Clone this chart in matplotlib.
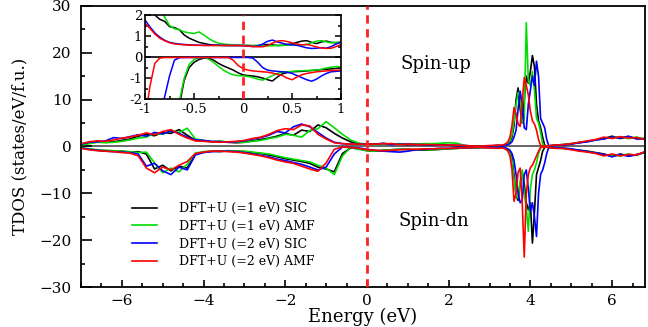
import numpy as np
import matplotlib
matplotlib.use("Agg")
import matplotlib.pyplot as plt
from matplotlib.ticker import MultipleLocator

plt.rcParams['font.family'] = ['DejaVu Serif']

# energy grid for the main panel (coarse in the valence band, fine around the 4 eV peak)
energy = np.round(np.concatenate([np.arange(-7.0, 3.21, 0.2),
                                  np.arange(3.3, 4.61, 0.05),
                                  np.arange(4.8, 6.81, 0.2)]), 3)

labels = ["DFT+U (=1 eV) SIC", "DFT+U (=1 eV) AMF",
          "DFT+U (=2 eV) SIC", "DFT+U (=2 eV) AMF"]
colors = ["black", "#00dd00", "#0000ff", "#ff0000"]

# spin-up TDOS
up_sic1 = [0.4, 0.8, 1.1, 0.9, 1.0, 1.3, 1.6, 2.2, 2.6, 2.3, 3.0, 2.8, 3.6, 2.4, 1.3, 1.2, 1.0, 1.1, 0.9, 0.8,
           0.9, 1.2, 1.5, 1.8, 2.2, 2.8, 2.4, 3.5, 3.2, 4.6, 4.0, 2.8, 1.8, 1.0, 0.6, 0.5, 0.5, 0.5, 0.6, 0.5,
           0.4, 0.5, 0.4, 0.4, 0.5, 0.3, 0.2, 0.1, 0.1, 0.1, 0.1, 0.2,
           0.2, 0.3, 0.4, 0.6, 1.0, 2.0, 4.5, 10.0, 12.5, 8.0, 5.0, 10.0, 15.0, 13.5, 16.0, 19.4, 17.0, 9.0,
           5.5, 4.0, 2.0, 0.3, 0.1, 0.1, 0.2, 0.2, 0.3,
           0.4, 0.6, 0.8, 1.1, 1.4, 1.7, 2.2, 1.7, 2.1, 1.7, 1.6]
up_amf1 = [0.3, 0.6, 0.9, 0.8, 0.9, 1.1, 1.4, 1.8, 2.0, 2.8, 2.6, 3.4, 3.0, 3.9, 1.6, 1.3, 1.0, 1.1, 1.0, 0.9,
           0.9, 1.1, 1.3, 1.7, 2.0, 2.6, 2.4, 2.0, 3.4, 3.8, 5.3, 4.0, 2.6, 1.4, 0.7, 0.5, 0.4, 0.5, 0.5, 0.6,
           0.5, 0.5, 0.6, 0.6, 0.7, 0.8, 0.7, 0.2, 0.1, 0.1, 0.1, 0.2,
           0.2, 0.3, 0.4, 0.7, 1.2, 2.5, 5.5, 9.0, 11.5, 10.5, 5.0, 6.0, 26.4, 14.0, 13.0, 16.0, 12.0, 6.0,
           5.0, 3.0, 0.5, 0.1, 0.1, 0.1, 0.2, 0.3, 0.3,
           0.4, 0.6, 0.9, 1.1, 1.4, 1.8, 1.9, 2.1, 1.7, 2.0, 1.6]
up_sic2 = [0.5, 0.9, 1.0, 1.2, 1.9, 1.7, 2.1, 2.5, 2.2, 3.0, 2.7, 3.3, 2.8, 2.0, 1.4, 1.3, 1.1, 1.0, 0.9, 1.0,
           1.2, 1.6, 1.9, 2.4, 3.2, 2.9, 4.2, 4.8, 4.2, 3.0, 1.8, 0.9, 0.6, 0.5, 0.5, 0.5, 0.5, 0.7, 0.4, 0.5,
           0.5, 0.4, 0.4, 0.3, 0.3, 0.3, 0.2, 0.2, 0.1, 0.1, 0.1, 0.2,
           0.1, 0.2, 0.3, 0.4, 0.6, 1.0, 2.0, 3.5, 8.0, 11.8, 9.0, 4.0, 3.6, 9.0, 12.0, 15.0, 13.0, 18.2, 15.0,
           6.0, 5.0, 4.0, 1.5, 0.2, 0.1, 0.2, 0.2,
           0.3, 0.5, 0.8, 1.0, 1.4, 1.6, 2.0, 1.8, 2.2, 1.6, 1.7]
up_amf2 = [0.6, 1.0, 1.2, 1.1, 1.4, 1.8, 2.0, 2.4, 2.9, 2.5, 3.2, 3.6, 2.6, 1.8, 1.2, 1.1, 1.0, 0.9, 1.0, 1.1,
           1.3, 1.7, 2.0, 2.6, 3.4, 3.8, 3.6, 4.6, 4.4, 2.6, 1.6, 0.8, 0.6, 0.5, 0.5, 0.5, 0.5, 0.6, 0.6, 0.4,
           0.5, 0.4, 0.4, 0.4, 0.3, 0.3, 0.3, 0.2, 0.1, 0.1, 0.2, 0.3,
           0.3, 0.4, 0.6, 1.0, 2.0, 4.5, 8.3, 7.0, 4.8, 4.3, 9.5, 14.7, 13.0, 11.0, 7.5, 5.5, 4.8, 3.5, 1.5,
           0.2, 0.1, 0.1, 0.1, 0.2, 0.2, 0.3, 0.3,
           0.4, 0.6, 0.9, 1.2, 1.5, 2.0, 1.7, 2.1, 1.8, 1.9, 1.5]

# spin-down TDOS
dn_sic1 = [-0.3, -0.6, -0.8, -0.9, -1.0, -1.0, -1.2, -1.1, -1.6, -4.8, -4.0, -5.2, -4.2, -4.6, -1.6, -1.2,
           -1.0, -1.1, -0.9, -1.0, -1.1, -1.3, -1.5, -1.8, -2.2, -2.6, -2.9, -3.2, -3.6, -4.4, -4.8, -5.4,
           -1.5, -0.3, -0.5, -0.9, -1.0, -0.8, -0.7, -0.6, -0.6, -0.7, -0.8, -0.7, -0.6, -0.5, -0.4, -0.3,
           -0.3, -0.2, -0.2, -0.3,
           -0.2, -0.3, -0.4, -0.7, -1.2, -2.5, -6.0, -10.5, -11.5, -8.0, -5.5, -8.0, -12.0, -13.5, -12.0,
           -20.6, -14.0, -6.0, -4.5, -3.0, -1.0, -0.2, -0.1, -0.2, -0.2, -0.3, -0.3,
           -0.4, -0.6, -0.8, -1.0, -1.3, -1.6, -2.1, -1.6, -2.0, -1.7, -1.3]
dn_amf1 = [-0.2, -0.5, -0.7, -0.8, -0.9, -1.0, -1.1, -1.3, -1.2, -3.5, -5.6, -4.6, -5.4, -3.8, -1.4, -1.1,
           -1.0, -1.0, -0.9, -1.0, -1.0, -1.2, -1.4, -1.6, -2.0, -2.4, -2.7, -3.0, -3.3, -4.0, -4.6, -6.0,
           -2.0, -0.2, -0.6, -0.9, -1.0, -0.8, -0.7, -0.6, -0.7, -0.6, -0.7, -0.7, -0.6, -0.5, -0.4, -0.3,
           -0.3, -0.2, -0.2, -0.3,
           -0.2, -0.3, -0.5, -0.8, -1.4, -3.0, -7.0, -10.5, -11.0, -7.5, -5.0, -10.0, -13.0, -18.1, -9.0,
           -6.0, -5.0, -3.5, -1.5, -0.3, -0.1, -0.1, -0.1, -0.2, -0.2, -0.3, -0.3,
           -0.4, -0.6, -0.9, -1.1, -1.4, -1.8, -1.9, -2.0, -1.6, -1.9, -1.2]
dn_sic2 = [-0.3, -0.6, -0.8, -1.0, -1.1, -1.2, -1.3, -1.6, -4.2, -3.6, -5.2, -6.0, -4.4, -5.0, -1.8, -1.3,
           -1.1, -1.0, -1.0, -1.1, -1.3, -1.6, -1.9, -2.2, -2.7, -3.0, -3.4, -3.8, -4.4, -5.0, -4.4, -1.6,
           -0.1, -0.2, -0.3, -0.6, -0.8, -1.0, -1.1, -1.2, -1.0, -0.7, -0.6, -0.5, -0.4, -0.4, -0.3, -0.3,
           -0.2, -0.2, -0.2, -0.3,
           -0.1, -0.2, -0.3, -0.5, -0.8, -1.5, -3.0, -6.0, -10.0, -12.0, -11.5, -6.0, -5.0, -9.0, -13.8,
           -12.0, -15.0, -19.2, -10.0, -6.0, -5.0, -3.5, -1.5, -0.2, -0.2, -0.3, -0.3,
           -0.3, -0.5, -0.8, -1.1, -1.4, -1.7, -2.2, -1.7, -2.1, -1.8, -1.2]
dn_amf2 = [-0.4, -0.7, -0.9, -1.0, -1.1, -1.3, -1.4, -2.0, -4.6, -5.6, -4.4, -5.0, -4.0, -3.2, -1.5, -1.2,
           -1.0, -1.0, -1.1, -1.2, -1.4, -1.7, -2.0, -2.4, -2.9, -3.3, -3.6, -4.2, -4.8, -5.3, -3.5, -0.6,
           -0.1, -0.2, -0.4, -0.7, -0.8, -0.9, -0.8, -0.7, -0.6, -0.6, -0.5, -0.5, -0.4, -0.4, -0.3, -0.3,
           -0.2, -0.2, -0.3, -0.4,
           -0.3, -0.4, -0.6, -1.0, -2.0, -5.0, -11.7, -10.0, -5.5, -4.6, -12.0, -23.6, -10.0, -6.0, -4.5,
           -4.0, -3.0, -2.0, -1.0, -0.2, -0.1, -0.1, -0.2, -0.2, -0.3, -0.3, -0.4,
           -0.4, -0.7, -1.0, -1.2, -1.5, -2.0, -1.6, -2.0, -1.7, -1.8, -1.1]

# inset: zoom around the Fermi level
energy_in = np.round(np.arange(-1.0, 1.001, 0.05), 3)

in_up_sic1 = [2.6, 2.3, 2.0, 1.8, 1.7, 1.45, 1.4, 1.3, 1.05, 0.9, 0.8, 0.7, 0.65, 0.6, 0.57, 0.56, 0.55,
              0.55, 0.55, 0.55, 0.55, 0.55, 0.54, 0.55, 0.57, 0.6, 0.58, 0.55, 0.56, 0.6, 0.62, 0.7, 0.76,
              0.78, 0.7, 0.64, 0.72, 0.76, 0.7, 0.68, 0.7]
in_up_amf1 = [3.0, 2.8, 2.6, 2.3, 1.9, 1.5, 1.35, 1.3, 1.2, 1.15, 1.12, 1.2, 1.05, 0.88, 0.75, 0.66, 0.62,
              0.6, 0.58, 0.57, 0.56, 0.55, 0.55, 0.55, 0.54, 0.53, 0.54, 0.55, 0.55, 0.56, 0.58, 0.6, 0.58,
              0.6, 0.68, 0.76, 0.78, 0.72, 0.68, 0.7, 0.72]
in_up_sic2 = [1.76, 1.44, 1.15, 0.95, 0.8, 0.7, 0.65, 0.62, 0.6, 0.58, 0.57, 0.56, 0.56, 0.56, 0.56, 0.56,
              0.56, 0.55, 0.55, 0.55, 0.55, 0.53, 0.5, 0.52, 0.62, 0.75, 0.81, 0.72, 0.66, 0.6, 0.58, 0.56,
              0.5, 0.44, 0.41, 0.42, 0.45, 0.42, 0.5, 0.62, 0.72]
in_up_amf2 = [1.6, 1.37, 1.1, 0.9, 0.78, 0.68, 0.63, 0.6, 0.58, 0.57, 0.56, 0.56, 0.55, 0.55, 0.55, 0.55,
              0.55, 0.55, 0.55, 0.55, 0.54, 0.52, 0.5, 0.49, 0.49, 0.55, 0.66, 0.76, 0.78, 0.74, 0.68, 0.62,
              0.58, 0.6, 0.55, 0.48, 0.43, 0.41, 0.42, 0.5, 0.6]
in_dn_sic1 = [-4.0, -4.0, -4.0, -4.0, -4.0, -4.0, -4.0, -2.3, -1.1, -0.5, -0.25, -0.12, -0.05, -0.05, -0.15,
              -0.3, -0.42, -0.52, -0.62, -0.75, -0.85, -0.88, -0.9, -0.94, -1.0, -1.08, -1.14, -0.95, -0.8,
              -0.74, -0.7, -0.69, -0.68, -0.66, -0.64, -0.62, -0.6, -0.58, -0.56, -0.54, -0.5]
in_dn_amf1 = [-4.0, -4.0, -4.0, -4.0, -4.0, -4.0, -4.0, -2.1, -1.0, -0.35, -0.12, -0.03, -0.02, -0.1, -0.25,
              -0.45, -0.62, -0.75, -0.85, -0.88, -0.9, -0.92, -0.98, -1.05, -1.1, -1.0, -0.88, -0.78, -0.72,
              -0.7, -0.68, -0.66, -0.65, -0.64, -0.63, -0.62, -0.58, -0.52, -0.48, -0.45, -0.46]
in_dn_sic2 = [-4.0, -3.5, -3.0, -2.6, -1.9, -0.9, -0.15, -0.03, -0.02, -0.02, -0.02, -0.02, -0.02, -0.02,
              -0.02, -0.02, -0.02, -0.02, -0.02, -0.02, -0.02, -0.02, -0.05, -0.25, -0.5, -0.62, -0.66, -0.68,
              -0.7, -0.72, -0.78, -0.88, -0.98, -1.08, -1.15, -1.05, -0.9, -0.78, -0.7, -0.68, -0.66]
in_dn_amf2 = [-3.0, -1.4, -0.3, -0.05, -0.02, -0.02, -0.02, -0.02, -0.02, -0.02, -0.02, -0.02, -0.02, -0.02,
              -0.02, -0.02, -0.02, -0.02, -0.15, -0.4, -0.55, -0.62, -0.66, -0.68, -0.7, -0.72, -0.76, -0.82,
              -0.88, -1.0, -1.08, -0.95, -0.84, -0.78, -0.74, -0.7, -0.68, -0.66, -0.64, -0.63, -0.62]

ups = [up_sic1, up_amf1, up_sic2, up_amf2]
dns = [dn_sic1, dn_amf1, dn_sic2, dn_amf2]
in_ups = [in_up_sic1, in_up_amf1, in_up_sic2, in_up_amf2]
in_dns = [in_dn_sic1, in_dn_amf1, in_dn_sic2, in_dn_amf2]

fig = plt.figure(figsize=(6.48, 3.27), dpi=100)
ax = fig.add_axes([0.125, 0.122, 0.870, 0.860])

ax.axhline(0, color="0.35", lw=1.3, zorder=1)
for up, dn, c, lab in zip(ups, dns, colors, labels):
    ax.plot(energy, up, color=c, lw=1.2, label=lab, zorder=2)
    ax.plot(energy, dn, color=c, lw=1.2, zorder=2)
ax.axvline(0, color="#ff2020", lw=2, ls=(0, (3, 2)), zorder=3)

ax.set_xlim(-7, 6.8)
ax.set_ylim(-30, 30)
ax.xaxis.set_major_locator(MultipleLocator(2))
ax.xaxis.set_minor_locator(MultipleLocator(0.5))
ax.yaxis.set_major_locator(MultipleLocator(10))
ax.yaxis.set_minor_locator(MultipleLocator(5))
ax.tick_params(which="both", direction="in", top=False, right=False, labelsize=11, width=1.2)
ax.tick_params(axis="x", which="major", length=5, pad=5)
ax.tick_params(axis="y", which="major", length=8, pad=7)
ax.tick_params(which="minor", length=3)
for s in ax.spines.values():
    s.set_linewidth(1.3)
ax.set_xlabel("Energy (eV)", fontsize=13, labelpad=0)
ax.set_ylabel("TDOS (states/eV/f.u.)", fontsize=12, labelpad=8)

ax.text(0.83, 17.5, "Spin-up", fontsize=13, va="center")
ax.text(0.76, -16, "Spin-dn", fontsize=13, va="center")

ax.legend(loc="upper left", bbox_to_anchor=(0.079, 0.325), frameon=False, fontsize=9,
          handlelength=2.0, handletextpad=1.8, labelspacing=0.38, borderpad=0)

# inset
ins = fig.add_axes([0.2238, 0.697, 0.3025, 0.257])
ins.axhline(0, color="black", lw=1.2, zorder=1)
for up, dn, c in zip(in_ups, in_dns, colors):
    ins.plot(energy_in, up, color=c, lw=1.1, zorder=2)
    ins.plot(energy_in, dn, color=c, lw=1.1, zorder=2)
ins.axvline(0, color="#ff2020", lw=2, ls=(0, (3, 2)), zorder=3)
ins.set_xlim(-1, 1)
ins.set_ylim(-2, 2)
ins.xaxis.set_major_locator(MultipleLocator(0.5))
ins.xaxis.set_minor_locator(MultipleLocator(0.25))
ins.yaxis.set_major_locator(MultipleLocator(1))
ins.yaxis.set_minor_locator(MultipleLocator(0.5))
ins.set_xticks([-1, -0.5, 0, 0.5, 1], ["-1", "-0.5", "0", "0.5", "1"])
ins.set_yticks([-2, -1, 0, 1, 2], ["-2", "-1", "0", "1", "2"])
ins.tick_params(which="both", direction="in", right=True, top=False, labelsize=9.5, width=1.1)
ins.tick_params(axis="x", pad=3)
ins.tick_params(axis="y", pad=2)
ins.tick_params(which="major", length=4)
ins.tick_params(which="minor", length=2)
for s in ins.spines.values():
    s.set_linewidth(1.2)

fig.savefig("out.png", dpi=100)
